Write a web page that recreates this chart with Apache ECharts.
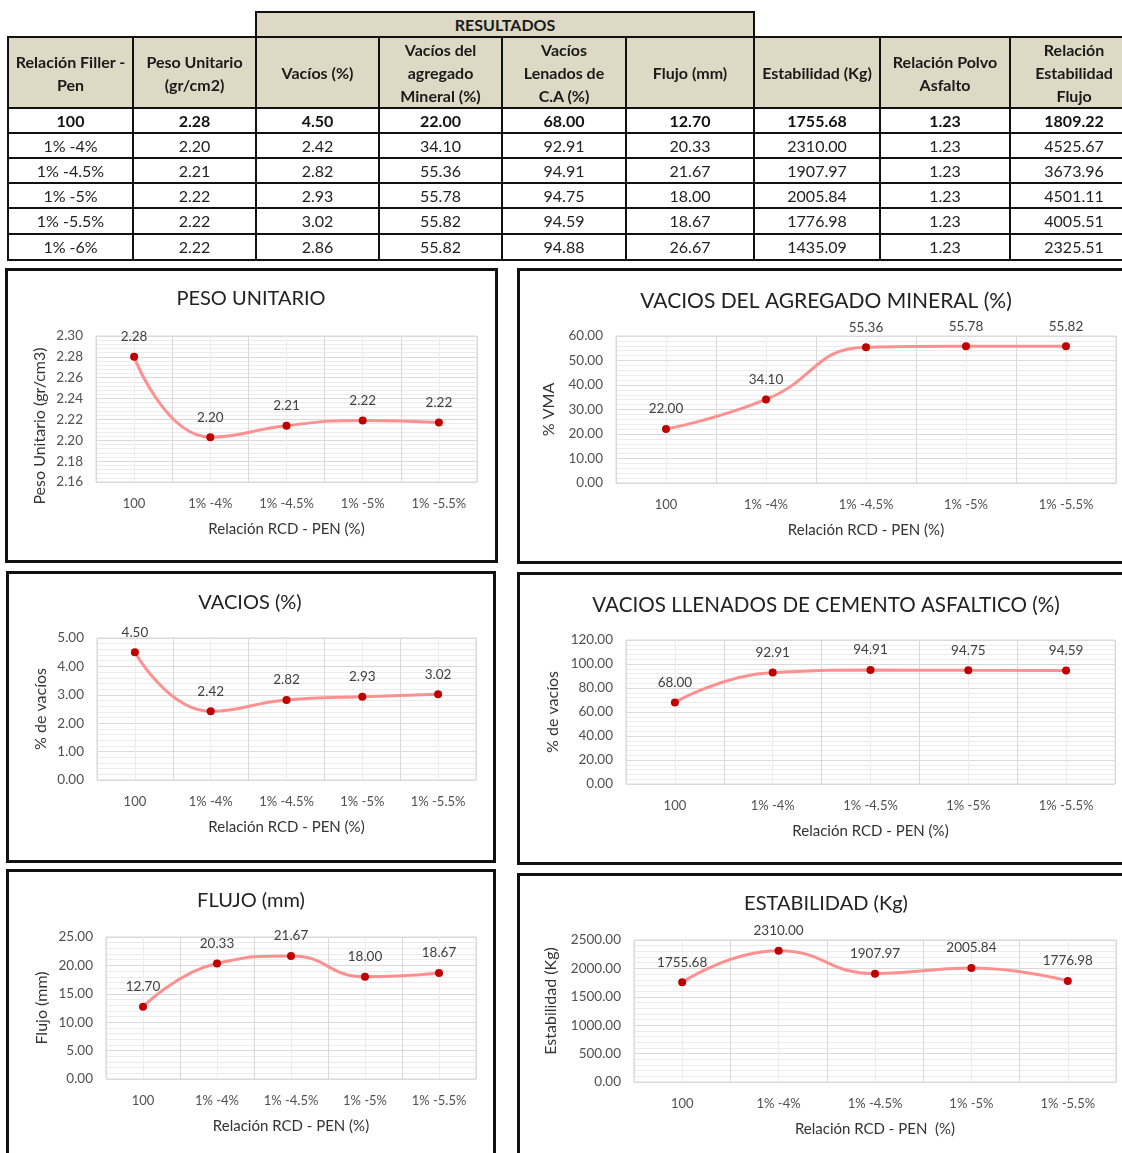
<!DOCTYPE html>
<html><head><meta charset="utf-8">
<script src="https://cdn.jsdelivr.net/npm/echarts@6/dist/echarts.min.js"></script>
<style>
html,body{margin:0;padding:0;background:#fff;width:1122px;height:1153px;overflow:hidden;font-family:Lato,'Noto Sans',sans-serif;}
#chart{position:absolute;left:0;top:0;width:1122px;height:1153px;}
#tbl{position:absolute;left:7px;top:11px;border-collapse:collapse;table-layout:fixed;width:1130px;}
#tbl td{border:2px solid #111;text-align:center;vertical-align:middle;padding:0;color:#222;font-size:16px;line-height:18px;white-space:nowrap;overflow:hidden;}
#tbl td.h{background:#ddd9c4;font-weight:bold;color:#1a1a1a;font-size:16px;line-height:23px;}
#tbl td.e{border-top:none;border-left:none;border-right:none;}
#tbl tr.b td{font-weight:bold;color:#111;}
.panel{position:absolute;border:3px solid #111;box-sizing:border-box;pointer-events:none;}
</style></head>
<body>
<div id="chart"></div>
<table id="tbl"></table>
<div class="panel" style="left:5px;top:268px;width:493px;height:295px"></div>
<div class="panel" style="left:517px;top:268px;width:620px;height:296px"></div>
<div class="panel" style="left:6px;top:571px;width:490px;height:292px"></div>
<div class="panel" style="left:517px;top:572px;width:620px;height:293px"></div>
<div class="panel" style="left:6px;top:869px;width:490px;height:300px"></div>
<div class="panel" style="left:517px;top:873px;width:620px;height:300px"></div>
<script>
// ---------- DATA ----------
const tableHeaders = ['Relación Filler -<br>Pen','Peso Unitario<br>(gr/cm2)','Vacíos (%)','Vacíos del<br>agregado<br>Mineral (%)','Vacíos<br>Lenados de<br>C.A (%)','Flujo (mm)','Estabilidad (Kg)','Relación Polvo<br>Asfalto','Relación<br>Estabilidad<br>Flujo'];
const groupHeader = 'RESULTADOS';
const tableCategories = ['100','1% -4%','1% -4.5%','1% -5%','1% -5.5%','1% -6%'];
const pesoUnitario = [2.28, 2.20, 2.21, 2.22, 2.22, 2.22];
const vacios = [4.50, 2.42, 2.82, 2.93, 3.02, 2.86];
const vma = [22.00, 34.10, 55.36, 55.78, 55.82, 55.82];
const vfa = [68.00, 92.91, 94.91, 94.75, 94.59, 94.88];
const flujo = [12.70, 20.33, 21.67, 18.00, 18.67, 26.67];
const estabilidad = [1755.68, 2310.00, 1907.97, 2005.84, 1776.98, 1435.09];
const polvoAsfalto = [1.23, 1.23, 1.23, 1.23, 1.23, 1.23];
const relEstabFlujo = [1809.22, 4525.67, 3673.96, 4501.11, 4005.51, 2325.51];

const categories = ['100','1% -4%','1% -4.5%','1% -5%','1% -5.5%'];
const pesoUnitarioGrafico = [2.28, 2.203, 2.214, 2.219, 2.217];
const vaciosGrafico = [4.50, 2.42, 2.82, 2.93, 3.02];
const vmaGrafico = [22.00, 34.10, 55.36, 55.78, 55.82];
const vfaGrafico = [68.00, 92.91, 94.91, 94.75, 94.59];
const flujoGrafico = [12.70, 20.33, 21.67, 18.00, 18.67];
const estabilidadGrafico = [1755.68, 2310.00, 1907.97, 2005.84, 1776.98];

// y axis ticks: [min, max, step]
const pesoTicks = [2.16, 2.30, 0.02];
const vmaTicks = [0, 60, 10];
const vaciosTicks = [0, 5, 1];
const vfaTicks = [0, 120, 20];
const flujoTicks = [0, 25, 5];
const estabTicks = [0, 2500, 500];

// ---------- TABLE ----------
(function(){
  const colW = [125,123,123,123,124,128,126,130,128];
  const rowH = [25,25,25,25,26,26];
  let h = '<colgroup>' + colW.map(w=>'<col style="width:'+w+'px">').join('') + '</colgroup>';
  h += '<tr style="height:24px"><td class="e" colspan="2"></td><td class="h" colspan="4">'+groupHeader+'</td><td class="e" colspan="3"></td></tr>';
  h += '<tr style="height:69px">' + tableHeaders.map(t=>'<td class="h">'+t+'</td>').join('') + '</tr>';
  const cols = [pesoUnitario, vacios, vma, vfa, flujo, estabilidad, polvoAsfalto, relEstabFlujo];
  tableCategories.forEach((c,r)=>{
    h += '<tr'+(r===0?' class="b"':'')+' style="height:'+rowH[r]+'px"><td>'+c+'</td>' + cols.map(a=>'<td>'+a[r].toFixed(2)+'</td>').join('') + '</tr>';
  });
  document.getElementById('tbl').innerHTML = h;
})();

// ---------- CHARTS ----------
const F = 'Lato';
const xName = 'Relación RCD - PEN (%)';
const charts = [
  {title:'PESO UNITARIO', tx:251, ty:300, fs:20, g:[96,336,381,146], y:pesoTicks, data:pesoUnitarioGrafico, yName:'Peso Unitario (gr/cm3)', yGap:48, pad:[0,34,0,0], xName:xName},
  {title:'VACIOS DEL AGREGADO MINERAL (%)', tx:826, ty:302, fs:21, g:[616,336,500,147], y:vmaTicks, data:vmaGrafico, yName:'% VMA', yGap:59, pad:[0,0,0,0], xName:xName},
  {title:'VACIOS (%)', tx:250, ty:604, fs:20, g:[97,638,379,142], y:vaciosTicks, data:vaciosGrafico, yName:'% de vacíos', yGap:48, pad:[0,0,0,0], xName:xName},
  {title:'VACIOS LLENADOS DE CEMENTO ASFALTICO (%)', tx:826, ty:606, fs:20.6, g:[626,640,489,144], y:vfaTicks, data:vfaGrafico, yName:'% de vacíos', yGap:65, pad:[0,0,0,0], xName:xName},
  {title:'FLUJO (mm)', tx:251, ty:902, fs:20, g:[106,937,370,142], y:flujoTicks, data:flujoGrafico, yName:'Flujo (mm)', yGap:56, pad:[0,0,0,0], xName:xName},
  {title:'ESTABILIDAD (Kg)', tx:826, ty:905, fs:20, g:[634,940,482,142], y:estabTicks, data:estabilidadGrafico, yName:'Estabilidad (Kg)', yGap:75, pad:[0,0,0,20], xName:'Relación RCD - PEN  (%)'}
];
const minorSlots = Array.from({length: categories.length*2+1}, ()=>'');
const titles=[], grids=[], xAxes=[], yAxes=[], series=[];
charts.forEach((c,i)=>{
  titles.push({text:c.title, left:c.tx, top:c.ty-c.fs/2-1, textAlign:'center', padding:0,
    textStyle:{fontFamily:F, fontSize:c.fs, fontWeight:'normal', color:'#222'}});
  grids.push({left:c.g[0], top:c.g[1], width:c.g[2], height:c.g[3], show:true, borderColor:'#d9d9d9', borderWidth:1, backgroundColor:'#fff'});
  xAxes.push({type:'category', gridIndex:i, data:categories, boundaryGap:true, position:'bottom',
    axisLine:{show:false}, axisTick:{show:false},
    axisLabel:{margin:15, fontFamily:F, fontSize:13, color:'#505050', interval:0},
    splitLine:{show:true, lineStyle:{color:'#d9d9d9', width:1}},
    name:c.xName, nameLocation:'middle', nameGap:40,
    nameTextStyle:{fontFamily:F, fontSize:15, color:'#333'}});
  xAxes.push({type:'category', gridIndex:i, data:minorSlots, boundaryGap:false, position:'top',
    axisLine:{show:false}, axisTick:{show:false}, axisLabel:{show:false},
    splitLine:{show:true, interval:(idx)=>idx%2===1, lineStyle:{color:'#ececec', width:1}}});
  yAxes.push({type:'value', gridIndex:i, min:c.y[0], max:c.y[1], interval:c.y[2],
    axisLine:{show:false}, axisTick:{show:false},
    axisLabel:{margin:13, fontFamily:F, fontSize:13.5, color:'#505050', formatter:v=>v.toFixed(2)},
    splitLine:{show:true, lineStyle:{color:'#d9d9d9'}},
    minorTick:{show:false, splitNumber:5},
    minorSplitLine:{show:true, lineStyle:{color:'#ececec'}},
    name:c.yName, nameLocation:'middle', nameGap:c.yGap, nameRotate:90,
    nameTextStyle:{fontFamily:F, fontSize:16, color:'#333', padding:c.pad}});
  series.push({type:'line', xAxisIndex:2*i, yAxisIndex:i, data:c.data, smooth:0.5,
    symbol:'circle', symbolSize:8, itemStyle:{color:'#c00000'},
    lineStyle:{color:'#ff9090', width:3}, z:5,
    label:{show:true, position:'top', distance:9, fontFamily:F, fontSize:13.5, color:'#404040',
      formatter:p=>Number(p.value).toFixed(2)}});
});
const chart = echarts.init(document.getElementById('chart'), null, {renderer:'canvas'});
chart.setOption({animation:false, backgroundColor:'#fff', title:titles, grid:grids, xAxis:xAxes, yAxis:yAxes, series:series});
</script>
</body></html>
